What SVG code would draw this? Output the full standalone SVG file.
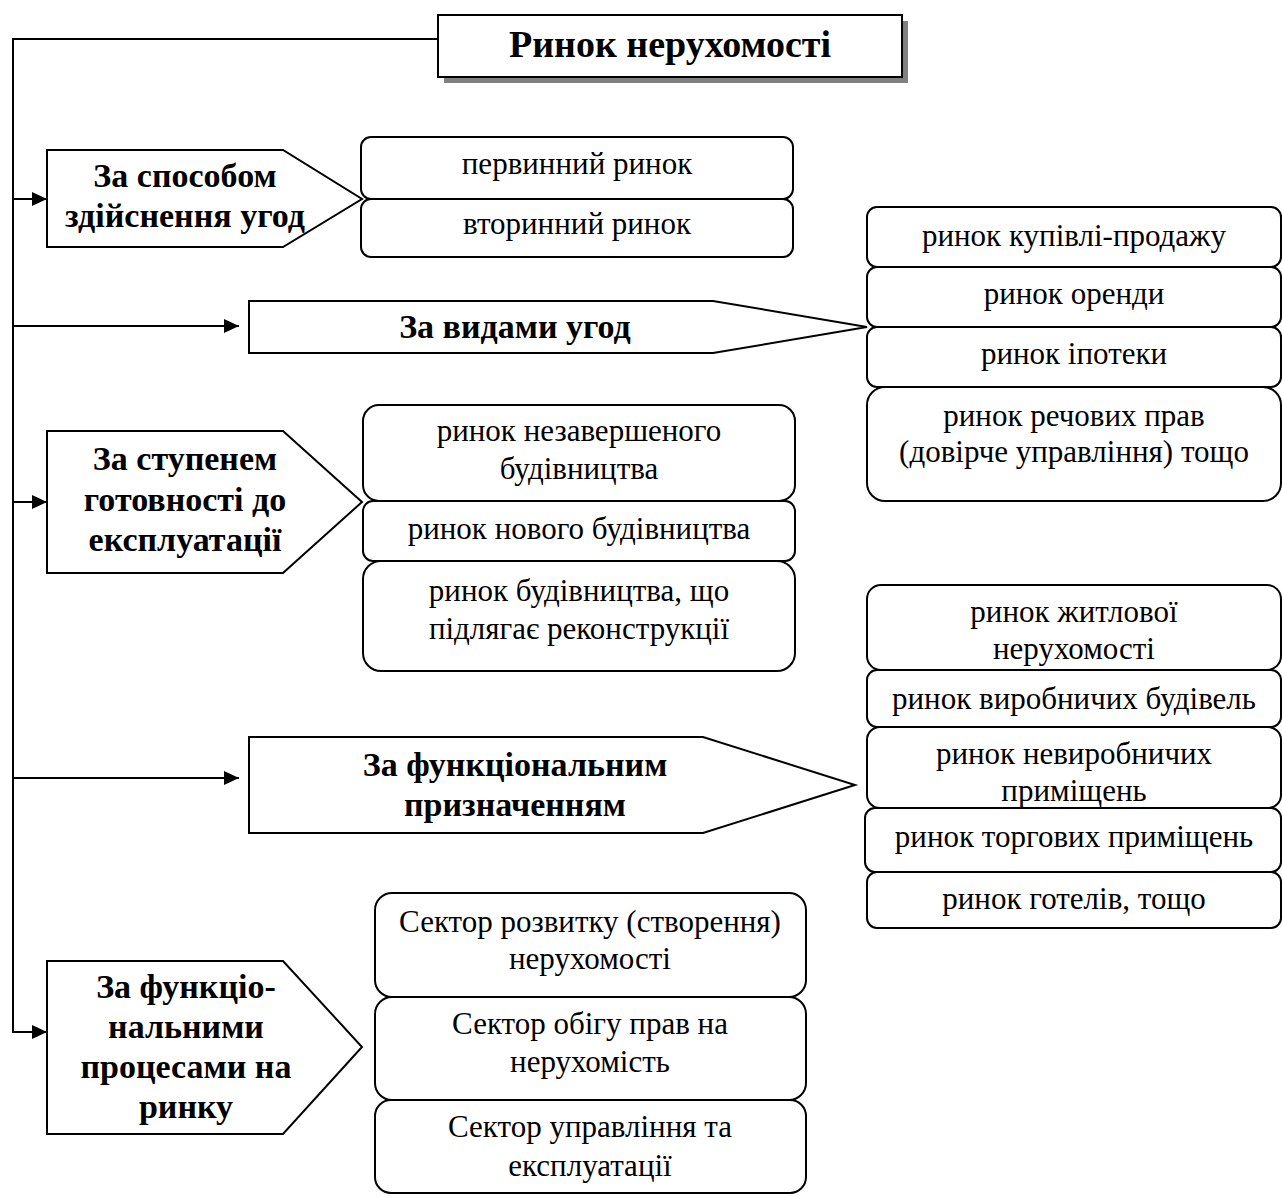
<svg xmlns="http://www.w3.org/2000/svg" width="1282" height="1198" viewBox="0 0 1282 1198">
<style>
.box{fill:#fff;stroke:#000;stroke-width:2}
.pent{fill:#fff;stroke:#000;stroke-width:2;stroke-linejoin:miter}
.t{font-family:"Liberation Serif","Times New Roman",serif;font-size:31px;text-anchor:middle;fill:#000}
.b{font-family:"Liberation Serif","Times New Roman",serif;font-size:34px;font-weight:bold;text-anchor:middle;fill:#000}
.ttl{font-family:"Liberation Serif","Times New Roman",serif;font-size:38px;font-weight:bold;text-anchor:middle;fill:#000}
.ln{fill:none;stroke:#000;stroke-width:2}
</style>
<defs>
<marker id="ah" markerUnits="userSpaceOnUse" markerWidth="16" markerHeight="14" refX="15" refY="7" orient="auto">
<path d="M0,0 L15,7 L0,14 Z" fill="#000"/>
</marker>
</defs>
<rect width="1282" height="1198" fill="#fff"/>
<g id="connectors">
<path class="ln" d="M438,39 H13 V1032 H47" marker-end="url(#ah)"/>
<path class="ln" d="M13,199 H47" marker-end="url(#ah)"/>
<path class="ln" d="M13,326 H239" marker-end="url(#ah)"/>
<path class="ln" d="M13,502 H47" marker-end="url(#ah)"/>
<path class="ln" d="M13,778 H239" marker-end="url(#ah)"/>
</g>
<g id="title">
<rect x="444" y="21" width="464" height="62" fill="#808080"/>
<rect class="box" x="438" y="15" width="464" height="62"/>
<text class="ttl" x="670" y="57">Ринок нерухомості</text>
</g>
<g id="p1">
<polygon class="pent" points="47,150 283,150 362,199 283,247 47,247"/>
<text class="b" x="185" y="187">За способом</text>
<text class="b" x="185" y="227">здійснення угод</text>
</g>
<g id="g1">
<rect class="box" x="361" y="137" width="432" height="62" rx="10"/>
<rect class="box" x="361" y="199" width="432" height="58" rx="10"/>
<text class="t" x="577" y="174">первинний ринок</text>
<text class="t" x="577" y="234">вторинний ринок</text>
</g>
<g id="p2">
<polygon class="pent" points="249,301 713,301 867,327 713,353 249,353"/>
<text class="b" x="515" y="338">За видами угод</text>
</g>
<g id="g2">
<rect class="box" x="867" y="207" width="414" height="60" rx="10"/>
<rect class="box" x="867" y="267" width="414" height="60" rx="10"/>
<rect class="box" x="867" y="327" width="414" height="60" rx="10"/>
<rect class="box" x="867" y="387" width="414" height="114" rx="18"/>
<text class="t" x="1074" y="246">ринок купівлі-продажу</text>
<text class="t" x="1074" y="304">ринок оренди</text>
<text class="t" x="1074" y="364">ринок іпотеки</text>
<text class="t" x="1074" y="426">ринок речових прав</text>
<text class="t" x="1074" y="462">(довірче управління) тощо</text>
</g>
<g id="p3">
<polygon class="pent" points="47,431 283,431 362,502 283,573 47,573"/>
<text class="b" x="185" y="470">За ступенем</text>
<text class="b" x="185" y="511">готовності до</text>
<text class="b" x="185" y="551">експлуатації</text>
</g>
<g id="g3">
<rect class="box" x="363" y="405" width="432" height="96" rx="16"/>
<rect class="box" x="363" y="501" width="432" height="60" rx="10"/>
<rect class="box" x="363" y="561" width="432" height="110" rx="18"/>
<text class="t" x="579" y="441">ринок незавершеного</text>
<text class="t" x="579" y="479">будівництва</text>
<text class="t" x="579" y="539">ринок нового будівництва</text>
<text class="t" x="579" y="601">ринок будівництва, що</text>
<text class="t" x="579" y="639">підлягає реконструкції</text>
</g>
<g id="p4">
<polygon class="pent" points="249,737 703,737 855,785 703,833 249,833"/>
<text class="b" x="515" y="776">За функціональним</text>
<text class="b" x="515" y="816">призначенням</text>
</g>
<g id="g4">
<rect class="box" x="867" y="585" width="414" height="85" rx="14"/>
<rect class="box" x="867" y="670" width="414" height="57" rx="10"/>
<rect class="box" x="867" y="727" width="414" height="81" rx="13"/>
<rect class="box" x="865" y="808" width="416" height="64" rx="10"/>
<rect class="box" x="867" y="872" width="414" height="56" rx="10"/>
<text class="t" x="1074" y="622">ринок житлової</text>
<text class="t" x="1074" y="659">нерухомості</text>
<text class="t" x="1074" y="709">ринок виробничих будівель</text>
<text class="t" x="1074" y="764">ринок невиробничих</text>
<text class="t" x="1074" y="801">приміщень</text>
<text class="t" x="1074" y="847">ринок торгових приміщень</text>
<text class="t" x="1074" y="909">ринок готелів, тощо</text>
</g>
<g id="p5">
<polygon class="pent" points="47,961 283,961 362,1047 283,1134 47,1134"/>
<text class="b" x="186" y="998">За функціо-</text>
<text class="b" x="186" y="1038">нальними</text>
<text class="b" x="186" y="1078">процесами на</text>
<text class="b" x="186" y="1118">ринку</text>
</g>
<g id="g5">
<rect class="box" x="375" y="893" width="431" height="104" rx="17"/>
<rect class="box" x="375" y="997" width="431" height="103" rx="17"/>
<rect class="box" x="375" y="1100" width="431" height="93" rx="16"/>
<text class="t" x="590" y="932">Сектор розвитку (створення)</text>
<text class="t" x="590" y="969">нерухомості</text>
<text class="t" x="590" y="1034">Сектор обігу прав на</text>
<text class="t" x="590" y="1072">нерухомість</text>
<text class="t" x="590" y="1137">Сектор управління та</text>
<text class="t" x="590" y="1176">експлуатації</text>
</g>
</svg>
